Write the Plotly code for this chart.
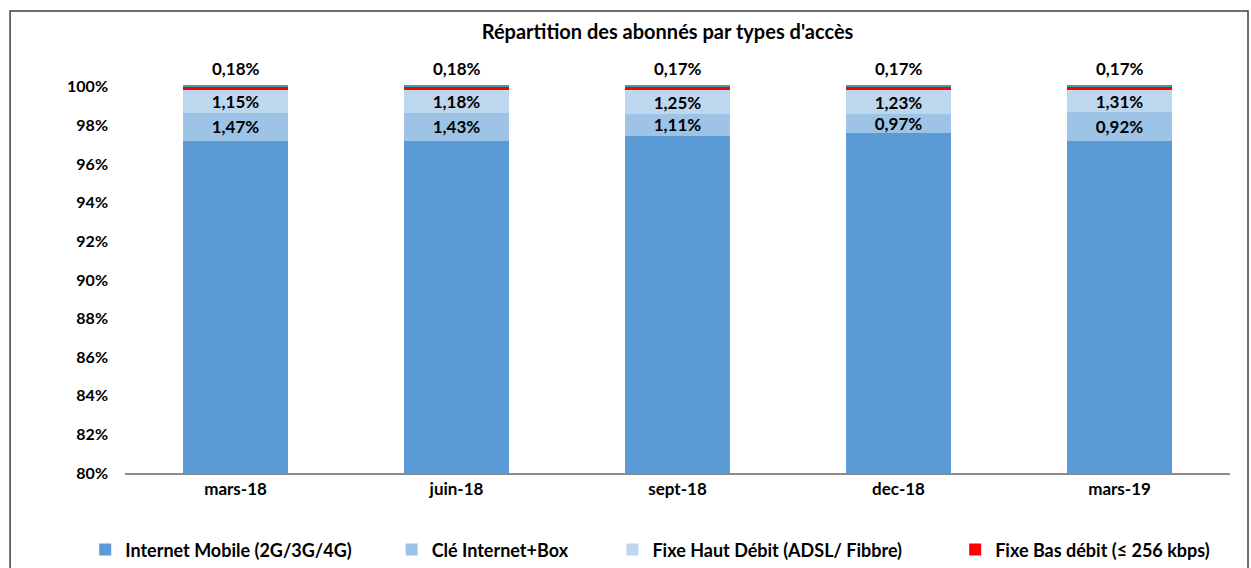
import plotly.graph_objects as go

# Categories and series (bar heights, labels as printed)
periods = ["mars-18", "juin-18", "sept-18", "dec-18", "mars-19"]
mobile = [97.20, 97.22, 97.47, 97.63, 97.20]
cle = [1.47, 1.43, 1.11, 0.97, 1.48]
haut_debit = [1.15, 1.18, 1.25, 1.23, 1.15]
bas_debit = [0.18, 0.18, 0.17, 0.17, 0.17]
autre = [0.05, 0.05, 0.05, 0.05, 0.05]

mobile_lbl = ["97,20%", "97,22%", "97,47%", "97,63%", "97,60"]
cle_lbl = ["1,47%", "1,43%", "1,11%", "0,97%", "0,92%"]
haut_lbl = ["1,15%", "1,18%", "1,25%", "1,23%", "1,31%"]
bas_lbl = ["0,18%", "0,18%", "0,17%", "0,17%", "0,17%"]

y_ticks = list(range(80, 101, 2))
y_tick_text = [f"{v}%" for v in y_ticks]

FONT = "Lato"
lbl_font = dict(family=FONT, size=17, color="black", weight="bold")
PAD = "\u00a0" * 8  # extra room between legend entries

fig = go.Figure()


def add_series(name, values, color, labels=None, showlegend=True):
    if labels:
        kw = dict(text=labels, textposition="inside", insidetextanchor="middle",
                  textangle=0, constraintext="none", textfont=lbl_font)
    else:
        kw = dict(textposition="none")
    fig.add_trace(go.Bar(
        x=periods, y=values, name=name,
        marker=dict(color=color, line=dict(width=0)),
        showlegend=showlegend, hoverinfo="skip", **kw,
    ))


add_series("Internet Mobile (2G/3G/4G)" + PAD, mobile, "#5B9BD5", mobile_lbl)
add_series("Clé Internet+Box" + PAD + "\u00a0", cle, "#9DC3E6", cle_lbl)
add_series("Fixe Haut Débit (ADSL/ Fibbre)" + PAD + "\u00a0" * 3, haut_debit, "#BDD7EE", haut_lbl)
add_series("Fixe Bas débit (≤ 256 kbps)", bas_debit, "#FF0000")
add_series("autre", autre, "#3E9BA8", showlegend=False)

# labels for the thin red segment, placed above the stack
totals = [a + b + c + d + e for a, b, c, d, e in zip(mobile, cle, haut_debit, bas_debit, autre)]
for p, tot, t in zip(periods, totals, bas_lbl):
    fig.add_annotation(x=p, y=tot, text=t, showarrow=False, yshift=17,
                       font=lbl_font)

fig.update_layout(
    width=1251, height=568,
    barmode="stack", bargap=0.525,
    plot_bgcolor="white", paper_bgcolor="white",
    margin=dict(l=125, r=21, t=83, b=95, autoexpand=False),
    font=dict(family=FONT, size=15, color="black"),
    title=dict(text="<b>Répartition des abonnés par types d'accès</b>",
               font=dict(family=FONT, size=20, color="black"),
               x=0.491, xref="paper", y=1 - 32 / 568, yref="container",
               xanchor="center", yanchor="middle"),
    legend=dict(orientation="h", x=-0.036, y=-0.197, xanchor="left", yanchor="middle",
                font=dict(family=FONT, size=18, color="black", weight="bold"),
                itemwidth=30, traceorder="normal"),
    shapes=[dict(type="rect", xref="paper", yref="paper",
                 x0=-0.104, x1=1.0163, y0=-0.3, y1=1.1846,
                 line=dict(color="#404040", width=1.5), layer="below")],
)
fig.update_xaxes(showline=True, linecolor="#8C8C8C", linewidth=2, ticks="",
                 automargin=False,
                 tickfont=dict(family=FONT, size=17, color="black", weight="bold"),
                 showgrid=False)
fig.update_yaxes(range=[80, 100.2], tickvals=y_ticks, ticktext=y_tick_text,
                 showgrid=False, zeroline=False, showline=False, ticks="",
                 ticklabelstandoff=16, automargin=False,
                 tickfont=dict(family=FONT, size=16, color="black", weight="bold"))

fig.write_html("out.html", config={"displayModeBar": False},
               post_script="document.body.style.margin='0';")
